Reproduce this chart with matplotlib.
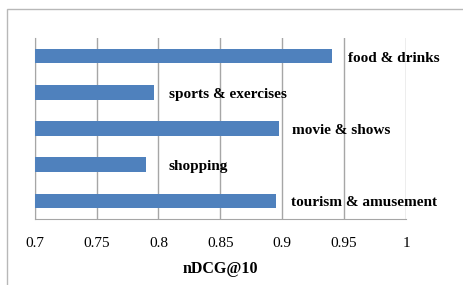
import matplotlib
matplotlib.use("Agg")
import matplotlib.pyplot as plt
from matplotlib.patches import Rectangle

categories = ["tourism & amusement", "shopping", "movie & shows", "sports & exercises", "food & drinks"]
ndcg = [0.895, 0.790, 0.897, 0.796, 0.940]
xticks = [0.7, 0.75, 0.8, 0.85, 0.9, 0.95, 1.0]
xtick_labels = ["0.7", "0.75", "0.8", "0.85", "0.9", "0.95", "1"]

# label offsets right of each bar end, in pixels
label_dx = [11, 16, 10, 11, 12]

plt.rcParams['font.family'] = ['Liberation Serif', 'DejaVu Serif']

fig = plt.figure(figsize=(4.63, 2.85), dpi=100)
ax = fig.add_axes([34.7 / 463, 1 - 219 / 285, (406 - 34.7) / 463, (219 - 38) / 285])

# outer frame of the chart (cropped at right and bottom)
fig.patches.append(Rectangle((7 / 463, -0.1), 1.2, 1 - 9 / 285 + 0.1, transform=fig.transFigure,
                             fill=False, edgecolor="#b8b8b8", linewidth=1.0))

y = range(len(categories))
ax.barh(y, [v - 0.7 for v in ndcg], left=0.7, height=0.4, color="#4f81bd", zorder=3)

for i, (v, name) in enumerate(zip(ndcg, categories)):
    ax.annotate(name, xy=(v, i), xytext=(label_dx[i], -1.5), textcoords="offset points",
                ha="left", va="center", fontsize=11, fontweight="bold", zorder=4)

ax.set_xlim(0.7, 1.0)
ax.set_ylim(-0.5, len(categories) - 0.5)
ax.set_xticks(xticks)
ax.set_xticklabels(xtick_labels, fontsize=11)
ax.set_yticks([])
ax.tick_params(axis="x", length=0, pad=13)
ax.grid(axis="x", color="#a6a6a6", linewidth=1.0, zorder=0)
ax.set_axisbelow(True)

for s in ["top", "right"]:
    ax.spines[s].set_visible(False)
ax.spines["left"].set_color("#a6a6a6")
ax.spines["bottom"].set_color("#a6a6a6")

ax.set_xlabel("nDCG@10", fontsize=11.5, fontweight="bold", labelpad=8)

fig.savefig("out.png", dpi=100)
